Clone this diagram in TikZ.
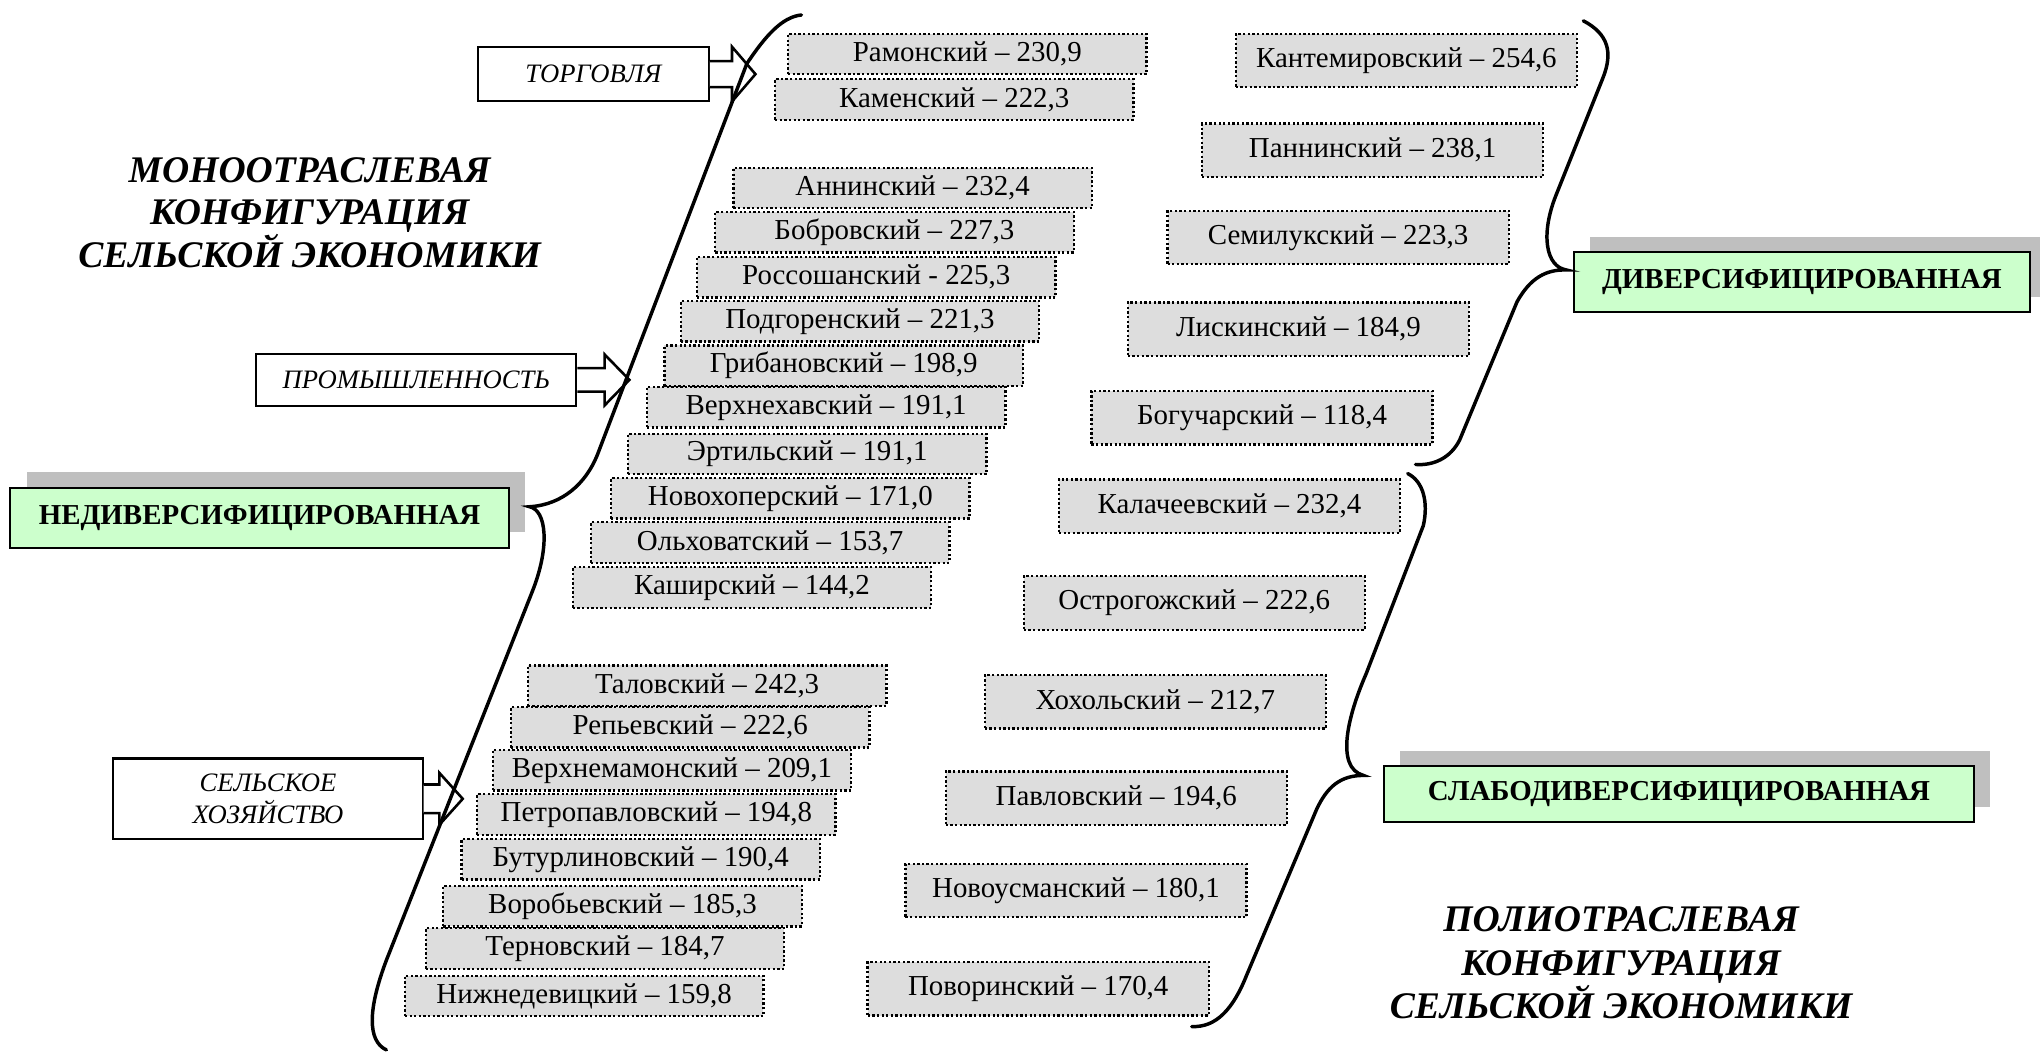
\documentclass[tikz,border=0pt]{standalone}
\usepackage{fontspec}
\setmainfont{Liberation Serif}
\usetikzlibrary{shadows}
\definecolor{rayongray}{RGB}{221,221,221}
\definecolor{klassgreen}{RGB}{204,255,204}
\definecolor{shadowgray}{RGB}{191,191,191}
\tikzstyle{rayon}=[rectangle, draw=black, dash pattern=on 0.8pt off 0.8pt, line width=0.8pt, fill=rayongray, minimum width=124pt, minimum height=14pt, inner sep=0pt, font=\fontsize{10}{12}\selectfont]
\tikzstyle{rayonbig}=[rayon, minimum width=118pt, minimum height=18.5pt]
\tikzstyle{otrasl}=[rectangle, draw=black, line width=0.7pt, fill=white, inner sep=0pt, align=center, font=\fontsize{9.2}{10.8}\selectfont\itshape]
\tikzstyle{klass}=[rectangle, draw=black, line width=0.7pt, fill=klassgreen, inner sep=0pt, minimum height=20.7pt, font=\fontsize{10}{12}\selectfont\bfseries, drop shadow={shadow xshift=5.6pt, shadow yshift=5.4pt, fill=shadowgray, opacity=1}]
\tikzstyle{zagolovok}=[align=center, inner sep=0pt, font=\fontsize{13}{14.6}\selectfont\bfseries\itshape]
\tikzstyle{skobka}=[line width=1.2pt, line cap=round]
\tikzstyle{strelka}=[draw=black, fill=white, line width=0.9pt, line join=miter]

\begin{document}
\begin{tikzpicture}[x=0.45pt, y=-0.45pt]
                    \useasboundingbox (0,0) rectangle (1568,808);
                    % titles
                    \node[zagolovok] (mono) at (238,163.5) {МОНООТРАСЛЕВАЯ\\КОНФИГУРАЦИЯ\\СЕЛЬСКОЙ ЭКОНОМИКИ};
                    \node[zagolovok, font=\fontsize{13}{15.2}\selectfont\bfseries\itshape] (poli) at (1246,740) {ПОЛИОТРАСЛЕВАЯ\\КОНФИГУРАЦИЯ\\СЕЛЬСКОЙ ЭКОНОМИКИ};
                    % left column
                    \node[rayon] (r1) at (743.5,41.5) {Рамонский – 230,9};
                    \node[rayon] (r2) at (733.5,76.5) {Каменский – 222,3};
                    \node[rayon] (r3) at (701.5,144.5) {Аннинский – 232,4};
                    \node[rayon] (r4) at (687.5,178.5) {Бобровский – 227,3};
                    \node[rayon] (r5) at (673.5,213) {Россошанский - 225,3};
                    \node[rayon] (r6) at (661,247) {Подгоренский – 221,3};
                    \node[rayon] (r7) at (648.5,281) {Грибановский – 198,9};
                    \node[rayon] (r8) at (635,313) {Верхнехавский – 191,1};
                    \node[rayon] (r9) at (620.5,349) {Эртильский – 191,1};
                    \node[rayon] (r10) at (607.5,383) {Новохоперский – 171,0};
                    \node[rayon] (r11) at (592,417) {Ольховатский – 153,7};
                    \node[rayon] (r12) at (578,451.5) {Каширский – 144,2};
                    \node[rayon] (r13) at (543.5,527) {Таловский – 242,3};
                    \node[rayon] (r14) at (530.5,559) {Репьевский – 222,6};
                    \node[rayon] (r15) at (516.5,592) {Верхнемамонский – 209,1};
                    \node[rayon] (r16) at (504.5,626) {Петропавловский – 194,8};
                    \node[rayon] (r17) at (492.5,660.5) {Бутурлиновский – 190,4};
                    \node[rayon] (r18) at (478.5,696.5) {Воробьевский – 185,3};
                    \node[rayon] (r19) at (465,729) {Терновский – 184,7};
                    \node[rayon] (r20) at (449,765.5) {Нижнедевицкий – 159,8};
                    % right column
                    \node[rayonbig] (r21) at (1081,46.5) {Кантемировский – 254,6};
                    \node[rayonbig] (r22) at (1055,115.5) {Паннинский – 238,1};
                    \node[rayonbig] (r23) at (1028.5,182.5) {Семилукский – 223,3};
                    \node[rayonbig] (r24) at (998,253) {Лискинский – 184,9};
                    \node[rayonbig] (r25) at (970,321) {Богучарский – 118,4};
                    \node[rayonbig] (r26) at (945,389) {Калачеевский – 232,4};
                    \node[rayonbig] (r27) at (918,463.5) {Острогожский – 222,6};
                    \node[rayonbig] (r28) at (888,539.5) {Хохольский – 212,7};
                    \node[rayonbig] (r29) at (858,613.5) {Павловский – 194,6};
                    \node[rayonbig] (r30) at (827,684.5) {Новоусманский – 180,1};
                    \node[rayonbig] (r31) at (798,760) {Поворинский – 170,4};
                    % branches
                    \node[otrasl, minimum width=80pt, minimum height=18.9pt] (torg) at (456,57) {ТОРГОВЛЯ};
                    \node[otrasl, minimum width=110.7pt, minimum height=18pt] (prom) at (320,292) {ПРОМЫШЛЕННОСТЬ};
                    \node[otrasl, minimum width=107pt, minimum height=27.9pt] (selh) at (206,614) {СЕЛЬСКОЕ\\ХОЗЯЙСТВО};
                    \draw[strelka] (torg.east) ++(0,-10) -- ++(17,0) -- ++(0,-11) -- ++(18,21) -- ++(-18,21) -- ++(0,-11) -- ++(-17,0);
                    \draw[strelka] (prom.east) ++(0,-9) -- ++(21,0) -- ++(0,-10.5) -- ++(19,19.5) -- ++(-19,19.5) -- ++(0,-10.5) -- ++(-21,0);
                    \draw[strelka] (selh.east) ++(0,-11) -- ++(12,0) -- ++(0,-9) -- ++(18,20) -- ++(-18,20) -- ++(0,-9) -- ++(-12,0);
                    % classes
                    \node[klass, minimum width=172.4pt] (nediv) at (199.5,398) {НЕДИВЕРСИФИЦИРОВАННАЯ};
                    \node[klass, minimum width=157.5pt] (div) at (1385,217) {ДИВЕРСИФИЦИРОВАННАЯ};
                    \node[klass, minimum width=203.9pt, minimum height=19.4pt] (slabo) at (1290.5,610.5) {СЛАБОДИВЕРСИФИЦИРОВАННАЯ};
                    % braces
                    \draw[skobka] (616,11.5) .. controls (601,13) and (588,28) .. (574,49) -- (459,350)
                          .. controls (450,372) and (432,388) .. (407,389.5)
                          .. controls (420,392) and (423,420) .. (409,455) -- (297,738)
                          .. controls (283,775) and (282,800) .. (297,807);
                    \draw[skobka] (1217,16) .. controls (1236,26) and (1240,40) .. (1232,60) -- (1196,150)
                          .. controls (1184,180) and (1188,205) .. (1204,207.5)
                          .. controls (1188,207) and (1176,214) .. (1166,232) -- (1122,338)
                          .. controls (1115,352) and (1102,358) .. (1088,357);
                    \draw[skobka] (1082,364) .. controls (1094,370) and (1098,386) .. (1094,404) -- (1050,518)
                          .. controls (1036,550) and (1026,590) .. (1048,596)
                          .. controls (1030,596) and (1020,605) .. (1012,622) -- (958,750)
                          .. controls (948,775) and (935,790) .. (916,789);
                    \end{tikzpicture}
\end{document}
